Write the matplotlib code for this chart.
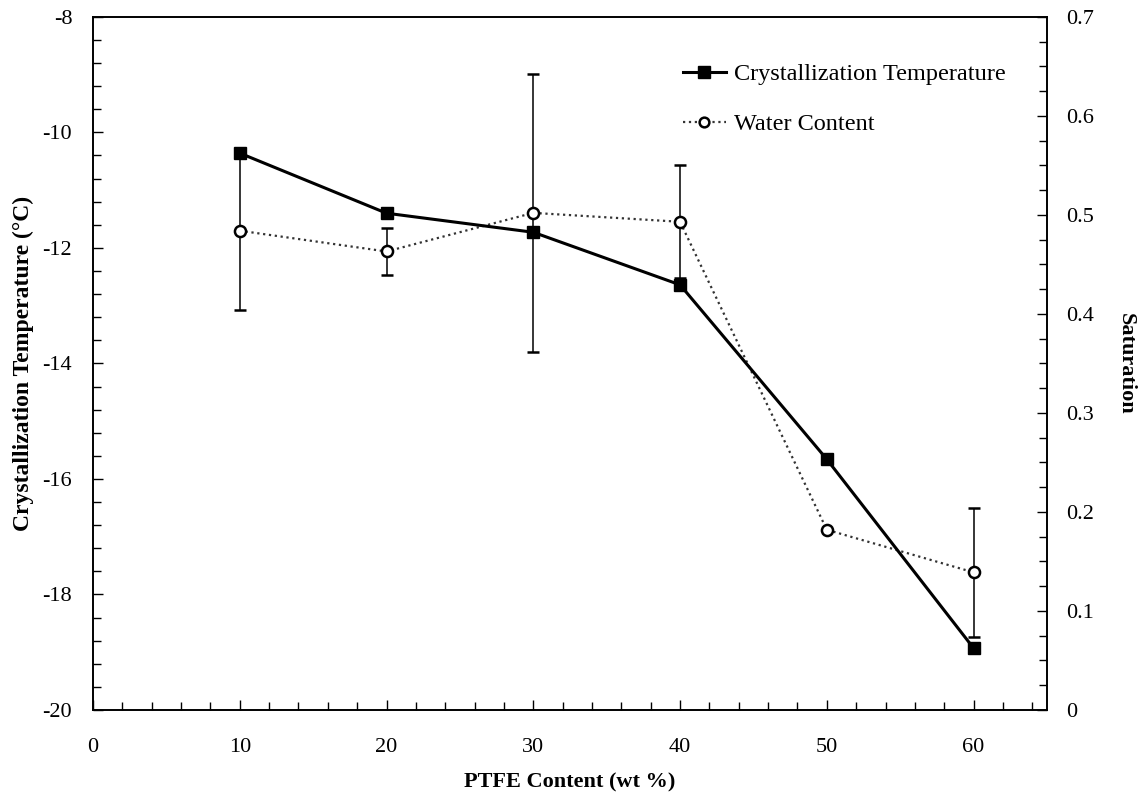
import numpy as np
import matplotlib
matplotlib.use("Agg")
import matplotlib.pyplot as plt
from matplotlib.ticker import MultipleLocator
from matplotlib.lines import Line2D

# ── data ─────────────────────────────────────────────────────────────────────
ptfe = [10, 20, 30, 40, 50, 60]
cryst_temp = [-10.36, -11.40, -11.73, -12.64, -15.66, -18.93]
water = [0.484, 0.463, 0.502, 0.493, 0.182, 0.139]
water_err = [0.080, 0.024, 0.140, 0.057, 0.0, 0.065]
right_ticks = [0, 0.1, 0.2, 0.3, 0.4, 0.5, 0.6, 0.7]
right_ticklabels = ["0", "0.1", "0.2", "0.3", "0.4", "0.5", "0.6", "0.7"]

plt.rcParams["font.family"] = ["Liberation Serif", "DejaVu Serif"]
plt.rcParams["axes.unicode_minus"] = False

fig = plt.figure(figsize=(11.48, 8), dpi=100)
ax = fig.add_axes([0.081, 0.1125, 0.831, 0.8665])
ax2 = ax.twinx()

# ── Water content on the right axis (drawn behind) ──
ax2.errorbar(ptfe, water, yerr=water_err, color="#333333", ls=":", lw=1.6,
             marker="o", ms=8, mfc="white", mec="black", mew=1.8,
             ecolor="black", elinewidth=1.1, capsize=4, capthick=1.1)

# ── Crystallization temperature on the left axis (on top) ──
ax.plot(ptfe, cryst_temp, color="black", lw=2.2, marker="s", ms=9)
ax.set_zorder(ax2.get_zorder() + 1)
ax.patch.set_visible(False)

ax.set_xlim(0, 65)
ax.set_ylim(-20, -8)
ax2.set_ylim(0, 0.7)

ax.xaxis.set_major_locator(MultipleLocator(10))
ax.xaxis.set_minor_locator(MultipleLocator(2))
ax.yaxis.set_major_locator(MultipleLocator(2))
ax.yaxis.set_minor_locator(MultipleLocator(0.4))
ax2.set_yticks(right_ticks)
ax2.set_yticklabels(right_ticklabels)
ax2.yaxis.set_minor_locator(MultipleLocator(0.025))

for a in (ax, ax2):
    a.tick_params(which="both", direction="in", labelsize=16, width=1)
    a.tick_params(which="major", length=7)
    a.tick_params(which="minor", length=6)
    for s in a.spines.values():
        s.set_linewidth(1.2)
ax.tick_params(axis="x", which="both", pad=20)
ax.tick_params(axis="y", which="both", pad=15)
ax2.tick_params(axis="y", which="both", pad=14)

ax.set_xlabel("PTFE Content (wt %)", fontsize=16, fontweight="bold", labelpad=11)
ax.set_ylabel("Crystallization Temperature (°C)", fontsize=17,
              fontweight="bold", labelpad=6)
ax2.set_ylabel("Saturation", fontsize=16, fontweight="bold", rotation=270,
               labelpad=30)

handles = [
    Line2D([], [], color="black", lw=2.2, marker="s", ms=8),
    Line2D([], [], color="#333333", ls=":", lw=1.6, marker="o", ms=7,
           mfc="white", mec="black", mew=1.8),
]
labels = ["Crystallization Temperature", "Water Content"]
fig.legend(handles, labels, loc="upper left", bbox_to_anchor=(0.595, 0.921),
           frameon=False, fontsize=17.5, labelspacing=1.15, handlelength=1.75,
           handletextpad=0.33, borderpad=0, borderaxespad=0)

fig.savefig("out.png", dpi=100)
